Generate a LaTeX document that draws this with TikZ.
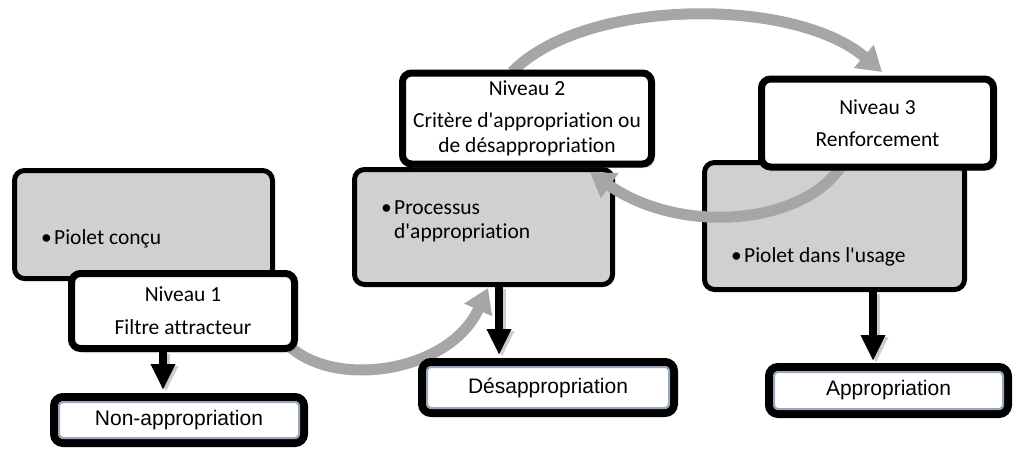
\documentclass[tikz,border=0pt]{standalone}
\usepackage{fontspec}
\setmainfont{Carlito}[Ligatures={NoCommon}]
\newfontfamily\arialfont{Liberation Sans}
\usetikzlibrary{arrows.meta,shadows}
\definecolor{boxgray}{HTML}{D0D0D0}
\definecolor{arcgray}{HTML}{A6A6A6}
\definecolor{innerblue}{HTML}{9AA8BC}
\newcommand\bulmark{\makebox[13pt][l]{\textbullet}}
\newcommand\apos{\textquotesingle}
\begin{document}
\begin{tikzpicture}[x=1pt,y=-1pt,
  graybox/.style={draw=black, fill=boxgray, line width=5pt, rounded corners=10pt, inner sep=0pt},
  levelbox/.style={draw=black, fill=white, line width=7pt, rounded corners=9pt, align=center,
    font=\fontsize{21.5}{25}\selectfont, inner sep=0pt,
    drop shadow={shadow xshift=3pt, shadow yshift=-4pt, opacity=0.3}},
  resultbox/.style={draw=black, fill=white, line width=8pt, rounded corners=9pt,
    font=\arialfont\fontsize{21}{25}\selectfont, inner sep=0pt,
    drop shadow={shadow xshift=2pt, shadow yshift=-3pt, opacity=0.3, fill=innerblue}},
  innerline/.style={draw=innerblue, line width=2pt, rounded corners=4pt},
  bullettext/.style={anchor=base west, align=left, font=\fontsize{21.5}{24}\selectfont, inner sep=0pt},
  arcarrow/.style={draw=arcgray, line width=11pt, -{Triangle[width=29pt,length=24pt]}},
  downarrow/.style={draw=black, line width=8pt, -{Triangle[width=23pt,length=26pt]}},
  downshadow/.style={draw=black!40, line width=8pt, -{Triangle[width=23pt,length=26pt]},
    opacity=0.5, transform canvas={xshift=3pt, yshift=-2pt}},
]
\useasboundingbox (0,0) rectangle (1016,450);

% grey content boxes
\node[graybox, minimum width=258pt, minimum height=108pt] (g1) at (143.5,224.5) {};
\node[graybox, minimum width=258pt, minimum height=115pt] (g2) at (483.5,227) {};
\node[graybox, minimum width=260pt, minimum height=127pt] (g3) at (834.5,226) {};

\node[bullettext] (b1) at (41,244) {\bulmark Piolet conçu};
\node[bullettext] (b2) at (381,238) {\bulmark Processus\\\hspace*{13pt}d\apos appropriation};
\node[bullettext] (b3) at (731,262) {\bulmark Piolet dans l\apos usage};

% curved grey arrows
\coordinate (a1s) at (288,345);
\coordinate (a1e) at (488,288);
\coordinate (a2s) at (512,72);
\coordinate (a2e) at (882,72);
\coordinate (a3s) at (840,168);
\coordinate (a3e) at (590,172);
\draw[arcarrow] (a1s) .. controls (335,390) and (450,372) .. (a1e);
\draw[arcarrow] (a2s) .. controls (585,-3) and (795,-3) .. (a2e);
\draw[arcarrow] (a3s) .. controls (800,225) and (680,235) .. (a3e);

% level boxes
\node[levelbox, minimum width=223pt, minimum height=75pt] (l1) at (183,311)
  {Niveau 1\\[8pt]Filtre attracteur};
\node[levelbox, minimum width=249pt, minimum height=91pt] (l2) at (527,118.5)
  {Niveau 2\\[7pt]Critère d\apos appropriation ou\\de désappropriation};
\node[levelbox, minimum width=232pt, minimum height=88pt] (l3) at (877.5,123)
  {Niveau 3\\[7pt]Renforcement};

% result boxes
\node[resultbox, minimum width=250pt, minimum height=46pt] (r1) at (179,420) {Non-appropriation};
\node[resultbox, minimum width=252pt, minimum height=51pt] (r2) at (548,387.5) {Désappropriation};
\node[resultbox, minimum width=239pt, minimum height=47pt] (r3) at (888.5,390.5) {Appropriation};
\draw[innerline] ([shift={(9pt,-9pt)}]r1.north west) rectangle ([shift={(-9pt,9pt)}]r1.south east);
\draw[innerline] ([shift={(9pt,-9pt)}]r2.north west) rectangle ([shift={(-9pt,9pt)}]r2.south east);
\draw[innerline] ([shift={(9pt,-9pt)}]r3.north west) rectangle ([shift={(-9pt,9pt)}]r3.south east);

% black down arrows
\draw[downshadow, shorten >=3pt] ([xshift=-20pt]l1.south) -- ([xshift=-20pt]l1.south |- r1.north);
\draw[downarrow, shorten >=3pt] ([xshift=-20pt]l1.south) -- ([xshift=-20pt]l1.south |- r1.north);
\draw[downshadow, shorten >=3pt] ([xshift=15.5pt]g2.south) -- ([xshift=15.5pt]g2.south |- r2.north);
\draw[downarrow, shorten >=3pt] ([xshift=15.5pt]g2.south) -- ([xshift=15.5pt]g2.south |- r2.north);
\draw[downshadow, shorten >=2pt] ([xshift=38.5pt]g3.south) -- ([xshift=38.5pt]g3.south |- r3.north);
\draw[downarrow, shorten >=2pt] ([xshift=38.5pt]g3.south) -- ([xshift=38.5pt]g3.south |- r3.north);
\end{tikzpicture}
\end{document}
